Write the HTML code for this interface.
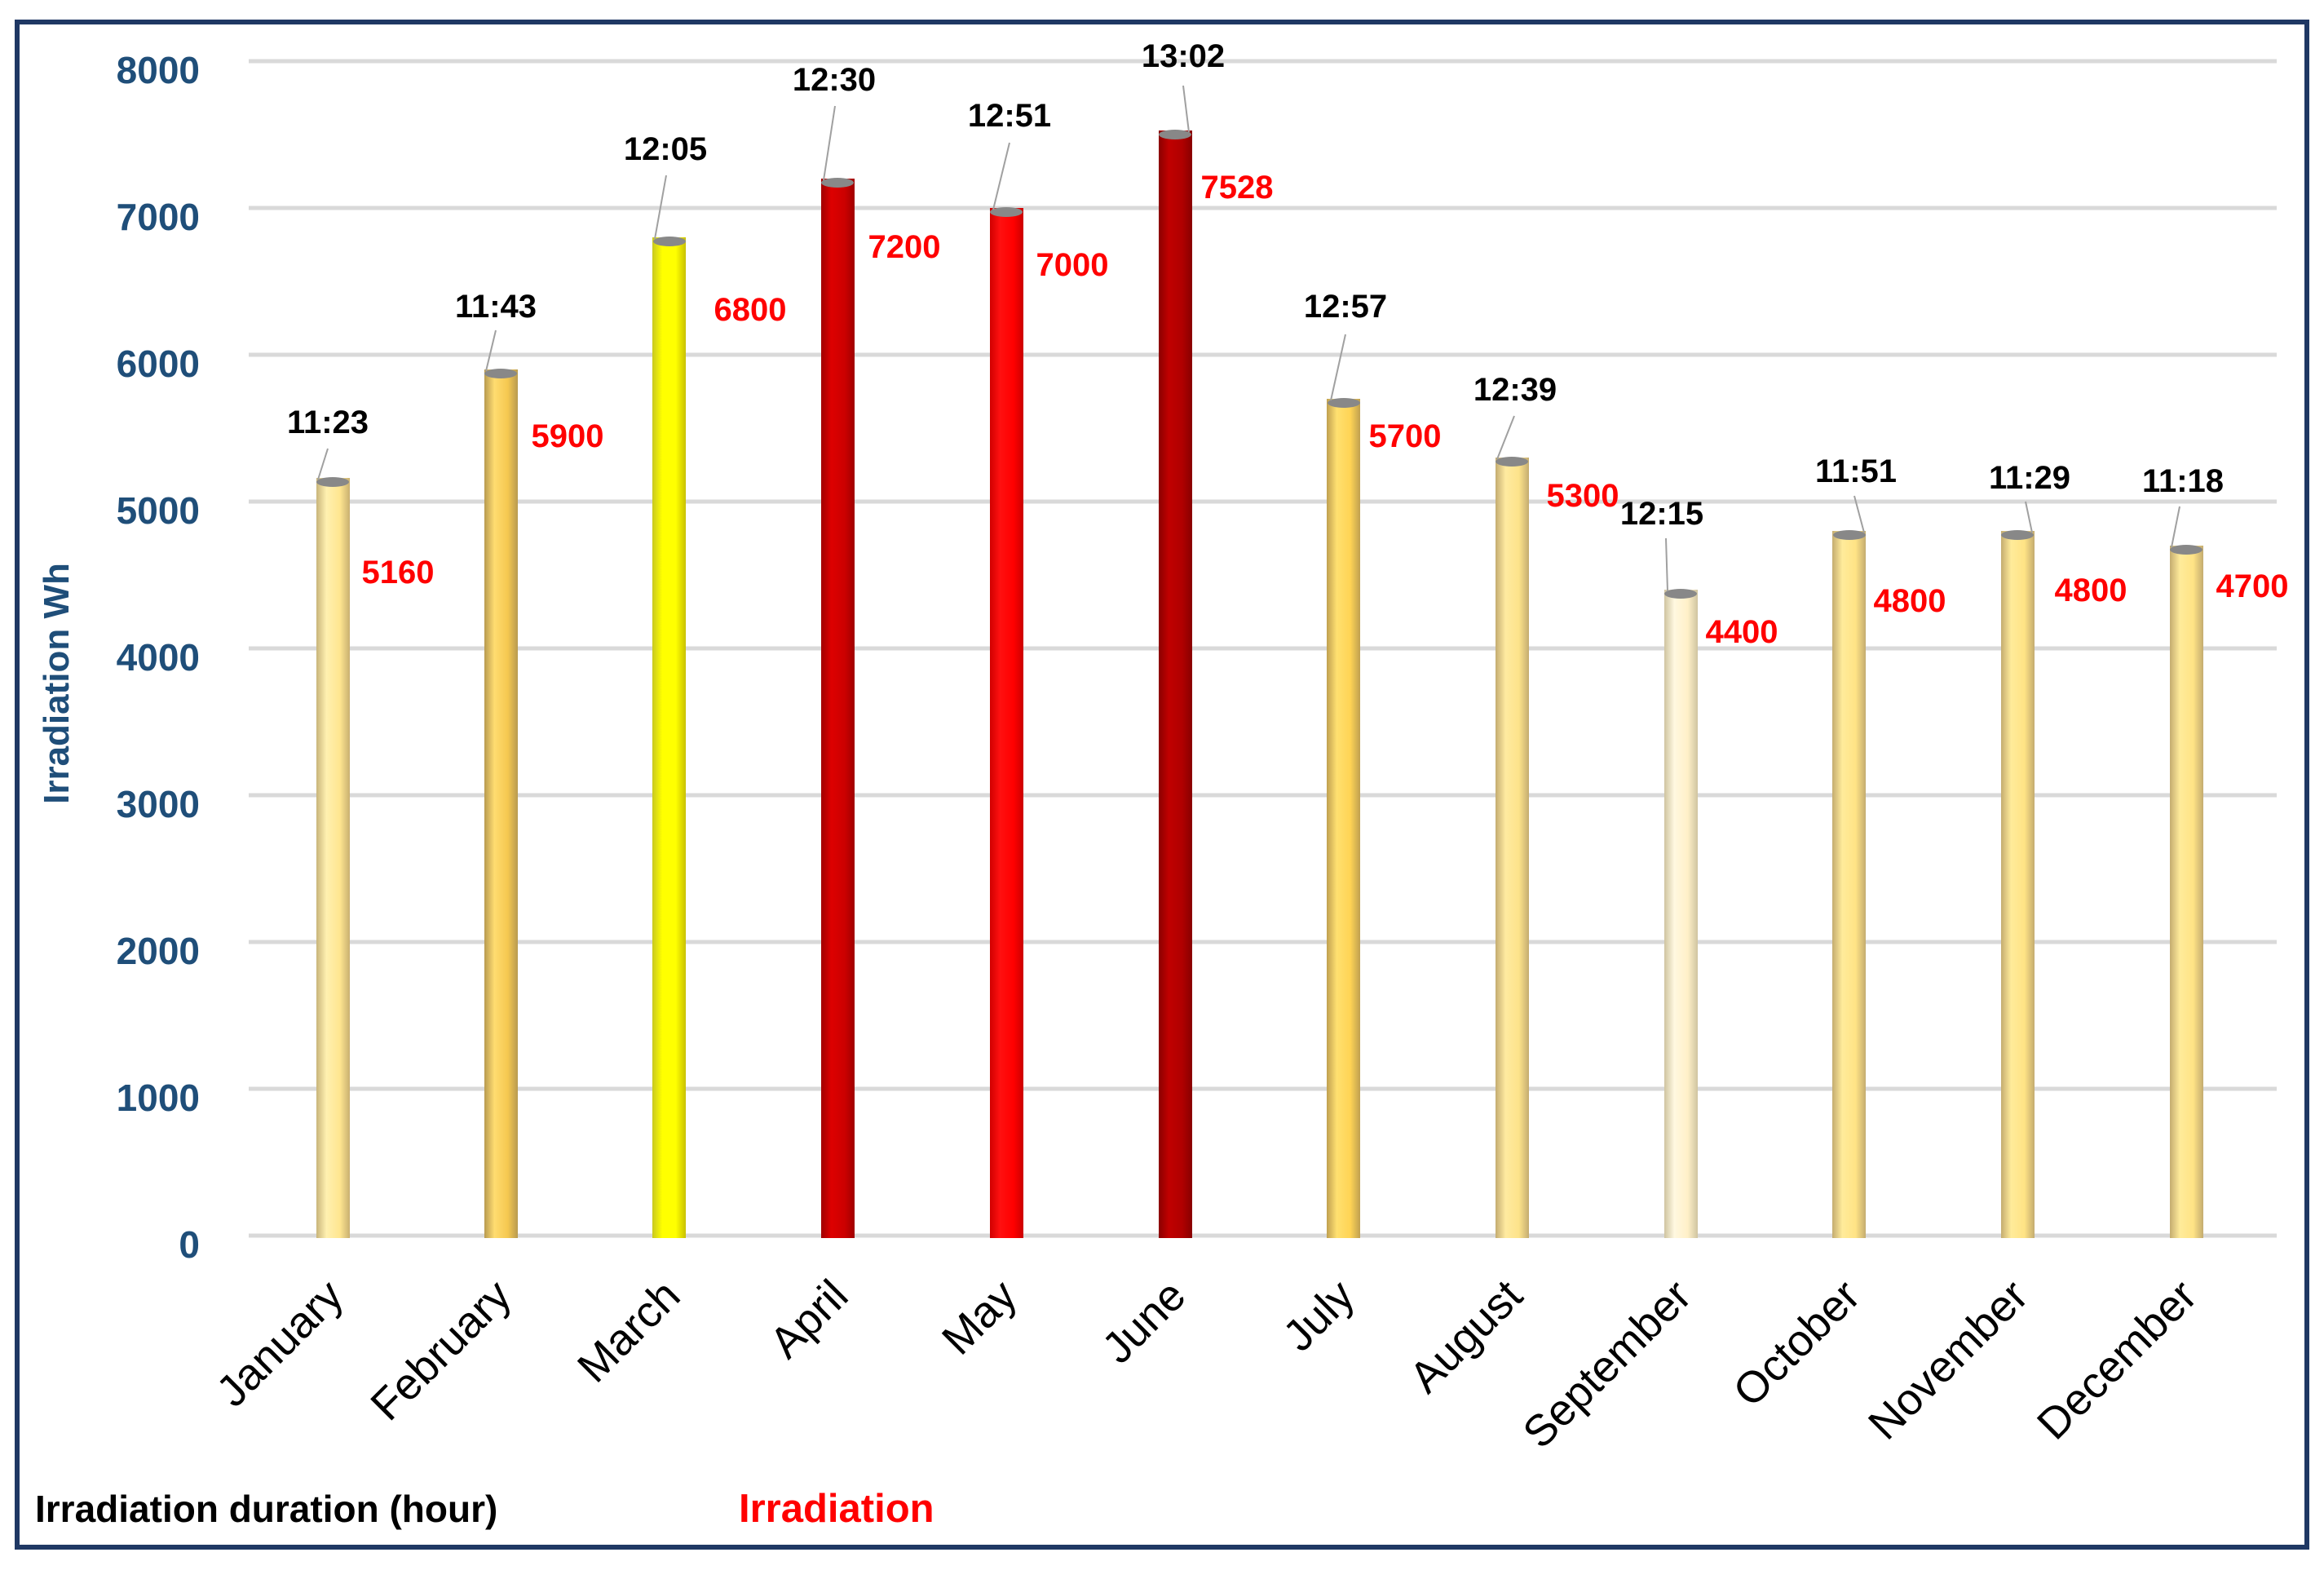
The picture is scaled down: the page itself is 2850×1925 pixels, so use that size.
<!DOCTYPE html>
<html><head><meta charset="utf-8"><style>
html,body{margin:0;padding:0;background:#fff;}
svg{display:block;}
text{font-family:"Liberation Sans",sans-serif;}
</style></head><body>
<svg width="2850" height="1925" viewBox="0 0 2850 1925" xmlns="http://www.w3.org/2000/svg">
<defs>
<linearGradient id="g0" x1="0" x2="1"><stop offset="0" stop-color="#c9b57a"/><stop offset=".3" stop-color="#fff0b0"/><stop offset=".7" stop-color="#ffe690"/><stop offset="1" stop-color="#c9b070"/></linearGradient>
<linearGradient id="g1" x1="0" x2="1"><stop offset="0" stop-color="#b89a50"/><stop offset=".3" stop-color="#ffdc70"/><stop offset=".7" stop-color="#f5c850"/><stop offset="1" stop-color="#b89a50"/></linearGradient>
<linearGradient id="g2" x1="0" x2="1"><stop offset="0" stop-color="#c8c820"/><stop offset=".3" stop-color="#ffff00"/><stop offset=".7" stop-color="#ffff00"/><stop offset="1" stop-color="#c8c000"/></linearGradient>
<linearGradient id="g3" x1="0" x2="1"><stop offset="0" stop-color="#a00000"/><stop offset=".3" stop-color="#dd0000"/><stop offset=".7" stop-color="#cc0000"/><stop offset="1" stop-color="#a00000"/></linearGradient>
<linearGradient id="g4" x1="0" x2="1"><stop offset="0" stop-color="#d00000"/><stop offset=".3" stop-color="#ff1010"/><stop offset=".7" stop-color="#ff0000"/><stop offset="1" stop-color="#cc0000"/></linearGradient>
<linearGradient id="g5" x1="0" x2="1"><stop offset="0" stop-color="#8a0000"/><stop offset=".3" stop-color="#c00000"/><stop offset=".7" stop-color="#b00000"/><stop offset="1" stop-color="#880000"/></linearGradient>
<linearGradient id="g6" x1="0" x2="1"><stop offset="0" stop-color="#c0a050"/><stop offset=".3" stop-color="#ffe070"/><stop offset=".7" stop-color="#ffd455"/><stop offset="1" stop-color="#c0a050"/></linearGradient>
<linearGradient id="g7" x1="0" x2="1"><stop offset="0" stop-color="#c4ac70"/><stop offset=".3" stop-color="#ffeaa0"/><stop offset=".7" stop-color="#fde38a"/><stop offset="1" stop-color="#c4ac70"/></linearGradient>
<linearGradient id="g8" x1="0" x2="1"><stop offset="0" stop-color="#cfc4a0"/><stop offset=".3" stop-color="#fff8e0"/><stop offset=".7" stop-color="#fff0c8"/><stop offset="1" stop-color="#cfc4a0"/></linearGradient>
<linearGradient id="g9" x1="0" x2="1"><stop offset="0" stop-color="#c4ac70"/><stop offset=".3" stop-color="#ffeb9a"/><stop offset=".7" stop-color="#ffe385"/><stop offset="1" stop-color="#c4ac70"/></linearGradient>
</defs>
<rect x="21" y="27" width="2808" height="1870" fill="#fff" stroke="#1f3864" stroke-width="6"/>
<g stroke="#d9d9d9" stroke-width="5">
<line x1="305" y1="75" x2="2792" y2="75"/>
<line x1="305" y1="255" x2="2792" y2="255"/>
<line x1="305" y1="435" x2="2792" y2="435"/>
<line x1="305" y1="615" x2="2792" y2="615"/>
<line x1="305" y1="795" x2="2792" y2="795"/>
<line x1="305" y1="975" x2="2792" y2="975"/>
<line x1="305" y1="1155" x2="2792" y2="1155"/>
<line x1="305" y1="1335" x2="2792" y2="1335"/>
<line x1="305" y1="1515" x2="2792" y2="1515"/>
</g>
<g font-size="46" font-weight="bold" fill="#1f4e79" text-anchor="end">
<text x="245" y="102">8000</text><text x="245" y="282">7000</text><text x="245" y="462">6000</text>
<text x="245" y="642">5000</text><text x="245" y="822">4000</text><text x="245" y="1002">3000</text>
<text x="245" y="1182">2000</text><text x="245" y="1362">1000</text><text x="245" y="1542">0</text>
</g>
<text transform="translate(84,838) rotate(-90)" font-size="44" font-weight="bold" fill="#1f4e79" text-anchor="middle">Irradiation Wh</text>
<g>
<rect x="388" y="586" width="41" height="932" fill="url(#g0)"/><ellipse cx="408" cy="591" rx="20" ry="6" fill="#888"/>
<rect x="594" y="453" width="41" height="1065" fill="url(#g1)"/><ellipse cx="614" cy="458" rx="20" ry="6" fill="#888"/>
<rect x="800" y="291" width="41" height="1227" fill="url(#g2)"/><ellipse cx="821" cy="296" rx="20" ry="6" fill="#888"/>
<rect x="1007" y="219" width="41" height="1299" fill="url(#g3)"/><ellipse cx="1027" cy="224" rx="20" ry="6" fill="#888"/>
<rect x="1214" y="255" width="41" height="1263" fill="url(#g4)"/><ellipse cx="1234" cy="260" rx="20" ry="6" fill="#888"/>
<rect x="1421" y="160" width="41" height="1358" fill="url(#g5)"/><ellipse cx="1441" cy="165" rx="20" ry="6" fill="#888"/>
<rect x="1627" y="489" width="41" height="1029" fill="url(#g6)"/><ellipse cx="1648" cy="494" rx="20" ry="6" fill="#888"/>
<rect x="1834" y="561" width="41" height="957" fill="url(#g7)"/><ellipse cx="1854" cy="566" rx="20" ry="6" fill="#888"/>
<rect x="2041" y="723" width="41" height="795" fill="url(#g8)"/><ellipse cx="2061" cy="728" rx="20" ry="6" fill="#888"/>
<rect x="2247" y="651" width="41" height="867" fill="url(#g9)"/><ellipse cx="2268" cy="656" rx="20" ry="6" fill="#888"/>
<rect x="2454" y="651" width="41" height="867" fill="url(#g9)"/><ellipse cx="2474" cy="656" rx="20" ry="6" fill="#888"/>
<rect x="2661" y="669" width="41" height="849" fill="url(#g9)"/><ellipse cx="2681" cy="674" rx="20" ry="6" fill="#888"/>
</g>
<g stroke="#a0a0a0" stroke-width="2">
<line x1="402" y1="550" x2="390" y2="588"/>
<line x1="608" y1="405" x2="596" y2="455"/>
<line x1="817" y1="215" x2="803" y2="293"/>
<line x1="1024" y1="130" x2="1010" y2="221"/>
<line x1="1238" y1="175" x2="1218" y2="257"/>
<line x1="1451" y1="105" x2="1458" y2="162"/>
<line x1="1650" y1="410" x2="1632" y2="491"/>
<line x1="1857" y1="510" x2="1836" y2="563"/>
<line x1="2043" y1="660" x2="2045" y2="725"/>
<line x1="2274" y1="608" x2="2286" y2="653"/>
<line x1="2484" y1="615" x2="2492" y2="653"/>
<line x1="2673" y1="621" x2="2663" y2="671"/>
</g>
<g font-size="40" font-weight="bold" fill="#000" text-anchor="middle">
<text x="402" y="531">11:23</text><text x="608" y="389">11:43</text><text x="816" y="196">12:05</text>
<text x="1023" y="111">12:30</text><text x="1238" y="155">12:51</text><text x="1451" y="82">13:02</text>
<text x="1650" y="389">12:57</text><text x="1858" y="491">12:39</text><text x="2038" y="643">12:15</text>
<text x="2276" y="591">11:51</text><text x="2489" y="599">11:29</text><text x="2677" y="603">11:18</text>
</g>
<g font-size="40" font-weight="bold" fill="#ff0000" text-anchor="middle">
<text x="488" y="715">5160</text><text x="696" y="548">5900</text><text x="920" y="393">6800</text>
<text x="1109" y="316">7200</text><text x="1315" y="338">7000</text><text x="1517" y="243">7528</text>
<text x="1723" y="548">5700</text><text x="1941" y="621">5300</text><text x="2136" y="788">4400</text>
<text x="2342" y="750">4800</text><text x="2564" y="737">4800</text><text x="2762" y="732">4700</text>
</g>
<g font-size="54" fill="#000" text-anchor="end">
<text transform="translate(424,1592) rotate(-45)">January</text>
<text transform="translate(630,1592) rotate(-45)">February</text>
<text transform="translate(837,1592) rotate(-45)">March</text>
<text transform="translate(1043,1592) rotate(-45)">April</text>
<text transform="translate(1250,1592) rotate(-45)">May</text>
<text transform="translate(1457,1592) rotate(-45)">June</text>
<text transform="translate(1664,1592) rotate(-45)">July</text>
<text transform="translate(1870,1592) rotate(-45)">August</text>
<text transform="translate(2077,1592) rotate(-45)">September</text>
<text transform="translate(2284,1592) rotate(-45)">October</text>
<text transform="translate(2490,1592) rotate(-45)">November</text>
<text transform="translate(2697,1592) rotate(-45)">December</text>
</g>
<text x="43" y="1866" font-size="46" font-weight="bold" fill="#000">Irradiation duration (hour)</text>
<text x="906" y="1866" font-size="49" font-weight="bold" fill="#ff0000">Irradiation</text>
</svg>
</body></html>
